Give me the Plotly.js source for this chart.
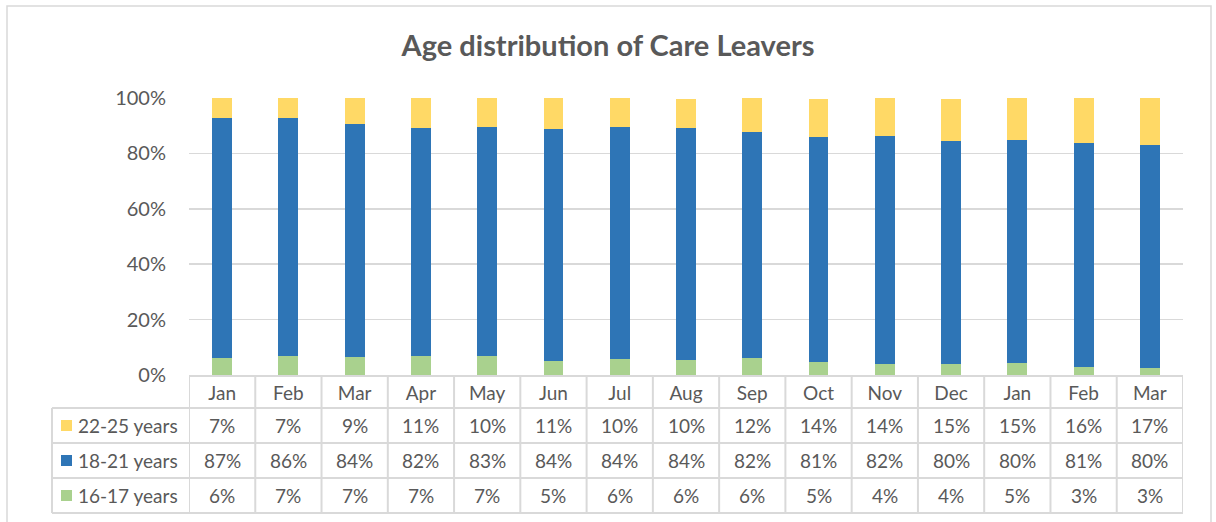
<!DOCTYPE html>
<html>
<head>
<meta charset="utf-8">
<script src="https://cdn.plot.ly/plotly-3.0.1.min.js"></script>
<style>
  html, body { margin: 0; padding: 0; background: #fff; }
  #graph { width: 1216px; height: 522px; }
</style>
</head>
<body>
<div id="graph"></div>
<script>
// months (two financial years overlap, so Jan-Mar repeat)
var months = ['Jan', 'Feb', 'Mar', 'Apr', 'May', 'Jun', 'Jul', 'Aug', 'Sep', 'Oct', 'Nov', 'Dec', 'Jan', 'Feb', 'Mar'];

// shares of care leavers by age band
var age22to25 = [0.071, 0.073, 0.093, 0.110, 0.104, 0.112, 0.104, 0.104, 0.124, 0.136, 0.137, 0.154, 0.151, 0.164, 0.170];
var age18to21 = [0.868, 0.858, 0.842, 0.823, 0.828, 0.837, 0.836, 0.838, 0.816, 0.813, 0.823, 0.804, 0.804, 0.806, 0.803];
var age16to17 = [0.061, 0.069, 0.065, 0.067, 0.067, 0.051, 0.059, 0.055, 0.060, 0.046, 0.040, 0.039, 0.045, 0.030, 0.027];

var seriesNames = ['22-25 years', '18-21 years', '16-17 years'];
var seriesColors = ['#FFD966', '#2E75B6', '#A9D18E'];

var textColor = '#595959';
var lineColor = '#D9D9D9';
var fontFamily = 'Lato, "Open Sans", sans-serif';

// pixel frame of the plot area
var W = 1216, H = 522;
var plotLeft = 189, plotRight = 1183, plotTop = 98, plotBottom = 375;

function px(x) { return (x - plotLeft) / (plotRight - plotLeft); }
function py(y) { return (plotBottom - y) / (plotBottom - plotTop); }

var idx = months.map(function (m, i) { return i; });

var charts = [];
var stackOrder = [age16to17, age18to21, age22to25];
var stackNames = [seriesNames[2], seriesNames[1], seriesNames[0]];
var stackColors = [seriesColors[2], seriesColors[1], seriesColors[0]];

for (var s = 0; s < stackOrder.length; s++) {
  charts.push({
    type: 'bar',
    x: idx,
    y: stackOrder[s],
    name: stackNames[s],
    width: 0.3,
    marker: { color: stackColors[s], line: { width: 0 } },
    hoverinfo: 'skip'
  });
}

// data table below the axis
var rowLines = [408, 443, 478, 513];
var tableLeft = 52;
var shapes = [];
var annotations = [];

// chart border
shapes.push({
  type: 'rect', xref: 'paper', yref: 'paper',
  x0: px(7), x1: px(1211), y0: py(6), y1: py(540),
  line: { color: lineColor, width: 1.5 }, fillcolor: 'rgba(0,0,0,0)', layer: 'below'
});

for (var r = 0; r < rowLines.length; r++) {
  shapes.push({
    type: 'line', xref: 'paper', yref: 'paper',
    x0: px(tableLeft), x1: 1,
    y0: py(rowLines[r]), y1: py(rowLines[r]),
    line: { color: lineColor, width: 2 }
  });
}
for (var c = 0; c <= months.length; c++) {
  shapes.push({
    type: 'line', xref: 'x', yref: 'paper',
    x0: c - 0.5, x1: c - 0.5, y0: 0, y1: py(rowLines[3]),
    line: { color: lineColor, width: 2 }
  });
}
shapes.push({
  type: 'line', xref: 'paper', yref: 'paper',
  x0: px(tableLeft), x1: px(tableLeft), y0: py(rowLines[0]), y1: py(rowLines[3]),
  line: { color: lineColor, width: 2 }
});

var tableRows = [age22to25, age18to21, age16to17];
for (var k = 0; k < tableRows.length; k++) {
  var yMid = (rowLines[k] + rowLines[k + 1]) / 2;
  // legend key
  shapes.push({
    type: 'rect', xref: 'paper', yref: 'paper',
    x0: px(61), x1: px(72), y0: py(yMid - 5.5), y1: py(yMid + 5.5),
    fillcolor: seriesColors[k], line: { width: 0 }
  });
  annotations.push({
    xref: 'paper', yref: 'paper', x: px(76), y: py(yMid),
    xanchor: 'left', yanchor: 'middle', showarrow: false,
    text: seriesNames[k], font: { family: fontFamily, size: 19, color: textColor }
  });
  for (var i = 0; i < months.length; i++) {
    annotations.push({
      xref: 'x', yref: 'paper', x: i, y: py(yMid),
      xanchor: 'center', yanchor: 'middle', showarrow: false,
      text: Math.round(tableRows[k][i] * 100) + '%',
      font: { family: fontFamily, size: 19, color: textColor }
    });
  }
}

var layout = {
  width: W,
  height: H,
  margin: { l: plotLeft, r: W - plotRight, t: plotTop, b: H - plotBottom, pad: 0 },
  paper_bgcolor: '#fff',
  plot_bgcolor: '#fff',
  barmode: 'stack',
  showlegend: false,
  title: {
    text: '<b>Age distribution of Care Leavers</b>',
    font: { family: fontFamily, size: 29, color: textColor },
    xref: 'container', yref: 'container',
    x: 0.5, xanchor: 'center', y: 1 - 46 / H, yanchor: 'middle'
  },
  xaxis: {
    range: [-0.5, months.length - 0.5],
    tickvals: idx,
    ticktext: months,
    ticks: '', ticklen: 0,
    tickfont: { family: fontFamily, size: 19, color: textColor },
    showgrid: false, zeroline: false,
    showline: true, linecolor: lineColor, linewidth: 2,
    fixedrange: true
  },
  yaxis: {
    range: [0, 1],
    dtick: 0.2,
    tickformat: '.0%',
    ticks: 'outside', ticklen: 18, tickcolor: 'rgba(0,0,0,0)',
    tickfont: { family: fontFamily, size: 20, color: textColor },
    showgrid: true, gridcolor: lineColor, gridwidth: 1.5,
    zeroline: false, showline: false,
    fixedrange: true
  },
  shapes: shapes,
  annotations: annotations
};

Plotly.newPlot('graph', charts, layout, { displayModeBar: false, staticPlot: true });
</script>
</body>
</html>
